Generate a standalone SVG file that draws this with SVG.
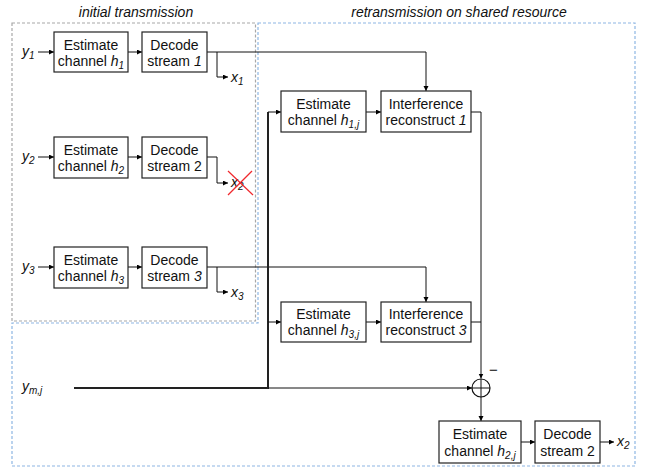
<svg xmlns="http://www.w3.org/2000/svg" width="646" height="468" viewBox="0 0 646 468">
<defs>
<marker id="arr" markerWidth="6" markerHeight="6" refX="5" refY="2.5" orient="auto" markerUnits="userSpaceOnUse">
<path d="M0,0 L5,2.5 L0,5 z" fill="#000"/>
</marker>
<style>
text{font-family:"Liberation Sans",Arial,sans-serif;font-size:14px;fill:#111}
.box{fill:#fff;stroke:#222;stroke-width:1.2}
.c{text-anchor:middle}
.i{font-style:italic}
.s{font-size:10px}
.hd{font-style:italic;text-anchor:middle;font-size:14px}
.ln{fill:none;stroke:#111;stroke-width:1}
.ar{fill:none;stroke:#111;stroke-width:1;marker-end:url(#arr)}
.thick{fill:none;stroke:#222;stroke-width:2}
.gray{fill:none;stroke:#A8A8A8;stroke-width:1.2;stroke-dasharray:3,2}
.blue{fill:none;stroke:#8EB6E3;stroke-width:1.2;stroke-dasharray:3,2}
</style>
</defs>
<rect width="646" height="468" fill="#fff"/>

<g id="regions">
<rect class="gray" x="12" y="23" width="243.5" height="298"/>
<path class="blue" d="M258,23 H635 V466 H12 V323 H258 Z"/>
<text class="hd" x="136" y="17">initial transmission</text>
<text class="hd" x="459" y="17">retransmission on shared resource</text>
</g>

<g id="connectors">
<line class="ar" x1="38" y1="52" x2="54" y2="52"/>
<line class="ar" x1="128" y1="52" x2="142" y2="52"/>
<path class="ar" d="M207,52 H426 V91"/>
<path class="ar" d="M217,52 V77 H228"/>
<line class="ar" x1="38" y1="157" x2="54" y2="157"/>
<line class="ar" x1="128" y1="157" x2="142" y2="157"/>
<path class="ar" d="M207,157 H217 V183 H228"/>
<line class="ar" x1="38" y1="267" x2="54" y2="267"/>
<line class="ar" x1="128" y1="267" x2="142" y2="267"/>
<path class="ar" d="M207,267 H426 V302"/>
<path class="ar" d="M217,267 V292 H228"/>
<path class="thick" d="M74,388 H268 V112"/>
<line class="ar" x1="268" y1="112" x2="281" y2="112"/>
<line class="ar" x1="268" y1="322" x2="281" y2="322"/>
<line class="ar" x1="268" y1="388" x2="472" y2="388"/>
<line class="ar" x1="366" y1="112" x2="381" y2="112"/>
<line class="ar" x1="366" y1="322" x2="381" y2="322"/>
<path class="ar" d="M471,112 H481 V378.5"/>
<path class="ln" d="M471,322 H481"/>
<line class="ar" x1="481" y1="397" x2="481" y2="421"/>
<line class="ar" x1="521" y1="442" x2="535" y2="442"/>
<line class="ar" x1="600" y1="442" x2="614" y2="442"/>
</g>

<g id="sum">
<circle cx="481" cy="388" r="9" fill="#fff" stroke="#111" stroke-width="1.2"/>
<line class="ln" x1="472" y1="388" x2="490" y2="388"/>
<line class="ln" x1="481" y1="379" x2="481" y2="397"/>
<text x="493.5" y="375" class="c" style="font-size:15px">−</text>
</g>

<g id="labels">
<text x="22" y="56" class="i">y<tspan class="s" dy="3">1</tspan></text>
<text x="22" y="161" class="i">y<tspan class="s" dy="3">2</tspan></text>
<text x="22" y="271" class="i">y<tspan class="s" dy="3">3</tspan></text>
<text x="22" y="391" class="i">y<tspan class="s" dy="3">m,j</tspan></text>
<text x="231" y="82" class="i">x<tspan class="s" dy="3">1</tspan></text>
<text x="231" y="297" class="i">x<tspan class="s" dy="3">3</tspan></text>
<text x="617" y="446" class="i">x<tspan class="s" dy="3">2</tspan></text>
</g>

<g id="x2-dropped">
<text x="231" y="187" class="i">x<tspan class="s" dy="3">2</tspan></text>
<line x1="228" y1="171" x2="253" y2="195" stroke="#F0282D" stroke-width="1.2"/>
<line x1="252" y1="171" x2="228" y2="195" stroke="#F0282D" stroke-width="1.2"/>
</g>

<g id="est-h1">
<rect class="box" x="54" y="32" width="74" height="40"/>
<text class="c" x="91" y="50">Estimate</text>
<text class="c" x="91" y="66">channel <tspan class="i">h</tspan><tspan class="s i" dy="3">1</tspan></text>
</g>
<g id="dec-1">
<rect class="box" x="142" y="32" width="65" height="40"/>
<text class="c" x="174.5" y="50">Decode</text>
<text class="c" x="174.5" y="66">stream <tspan class="i">1</tspan></text>
</g>
<g id="est-h2">
<rect class="box" x="54" y="137" width="74" height="41"/>
<text class="c" x="91" y="155">Estimate</text>
<text class="c" x="91" y="171">channel <tspan class="i">h</tspan><tspan class="s i" dy="3">2</tspan></text>
</g>
<g id="dec-2">
<rect class="box" x="142" y="137" width="65" height="41"/>
<text class="c" x="174.5" y="155">Decode</text>
<text class="c" x="174.5" y="171">stream 2</text>
</g>
<g id="est-h3">
<rect class="box" x="54" y="247" width="74" height="41"/>
<text class="c" x="91" y="265">Estimate</text>
<text class="c" x="91" y="281">channel <tspan class="i">h</tspan><tspan class="s i" dy="3">3</tspan></text>
</g>
<g id="dec-3">
<rect class="box" x="142" y="247" width="65" height="41"/>
<text class="c" x="174.5" y="265">Decode</text>
<text class="c" x="174.5" y="281">stream <tspan class="i">3</tspan></text>
</g>
<g id="est-h1j">
<rect class="box" x="281" y="91" width="85" height="41"/>
<text class="c" x="323.5" y="109">Estimate</text>
<text class="c" x="323.5" y="125">channel <tspan class="i">h</tspan><tspan class="s i" dy="3">1,j</tspan></text>
</g>
<g id="intf-1">
<rect class="box" x="381" y="91" width="90" height="41"/>
<text class="c" x="426" y="109">Interference</text>
<text class="c" x="426" y="125">reconstruct <tspan class="i">1</tspan></text>
</g>
<g id="est-h3j">
<rect class="box" x="281" y="302" width="85" height="40"/>
<text class="c" x="323.5" y="319">Estimate</text>
<text class="c" x="323.5" y="335">channel <tspan class="i">h</tspan><tspan class="s i" dy="3">3,j</tspan></text>
</g>
<g id="intf-3">
<rect class="box" x="381" y="302" width="90" height="40"/>
<text class="c" x="426" y="319">Interference</text>
<text class="c" x="426" y="335">reconstruct <tspan class="i">3</tspan></text>
</g>
<g id="est-h2j">
<rect class="box" x="439" y="421" width="82" height="42"/>
<text class="c" x="480" y="439">Estimate</text>
<text class="c" x="480" y="456">channel <tspan class="i">h</tspan><tspan class="s i" dy="3">2,j</tspan></text>
</g>
<g id="dec-2j">
<rect class="box" x="535" y="421" width="65" height="42"/>
<text class="c" x="567.5" y="439">Decode</text>
<text class="c" x="567.5" y="456">stream 2</text>
</g>
</svg>
